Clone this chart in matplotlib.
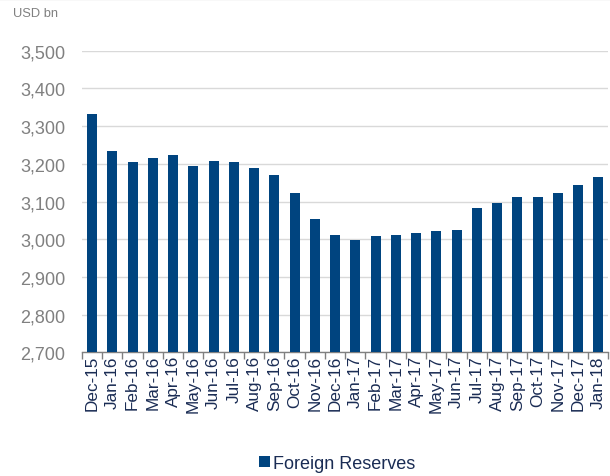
import matplotlib.pyplot as plt
import numpy as np

months = ['Dec-15', 'Jan-16', 'Feb-16', 'Mar-16', 'Apr-16', 'May-16', 'Jun-16',
          'Jul-16', 'Aug-16', 'Sep-16', 'Oct-16', 'Nov-16', 'Dec-16', 'Jan-17',
          'Feb-17', 'Mar-17', 'Apr-17', 'May-17', 'Jun-17', 'Jul-17', 'Aug-17',
          'Sep-17', 'Oct-17', 'Nov-17', 'Dec-17', 'Jan-18']
reserves = [3333, 3234, 3206, 3215, 3223, 3195, 3208, 3204, 3188, 3169, 3123,
            3054, 3011, 2999, 3008, 3012, 3016, 3021, 3024, 3084, 3095, 3111,
            3113, 3122, 3143, 3164]
yticks = [2700, 2800, 2900, 3000, 3100, 3200, 3300, 3400, 3500]

bar_color = '#00447f'
navy = '#1a2c54'
gray = '#808080'

fig = plt.figure(figsize=(6.1, 4.77), dpi=100)
ax = fig.add_axes([0.1344, 0.2593, 0.8631, 0.6323])

x = np.arange(len(months))
ax.bar(x, reserves, width=0.5, color=bar_color, label='Foreign Reserves', zorder=3)

ax.set_xlim(-0.5, len(months) - 0.5)
ax.set_ylim(2700, 3500)
ax.set_yticks(yticks)
ax.set_yticklabels(['{:,}'.format(v) for v in yticks], fontsize=13, color=gray,
                   family='Liberation Sans')
ax.grid(axis='y', color='#d9d9d9', linewidth=1, zorder=0)

ax.set_xticks(x)
ax.set_xticklabels(months, rotation=90, fontsize=12.3, color=navy, family='Liberation Sans')
ax.set_xticks(np.arange(-0.5, len(months)), minor=True)
ax.tick_params(axis='x', which='major', length=0, pad=2)
ax.tick_params(axis='x', which='minor', length=5, color=gray, width=1)
ax.tick_params(axis='y', length=0, pad=12)

for s in ['top', 'right', 'left']:
    ax.spines[s].set_visible(False)
ax.spines['bottom'].set_color(gray)
ax.spines['bottom'].set_linewidth(1)

# fine trait gris en haut de l'image
fig.add_artist(plt.Line2D([0, 1], [0.999, 0.999], color='#e0e0e0', linewidth=1))

fig.text(0.021, 0.97, 'USD bn', fontsize=9.3, color=gray, family='Liberation Sans',
         va='center')

fig.legend(loc='center', bbox_to_anchor=(0.553, 0.027), frameon=False,
           prop={'family': 'Liberation Sans', 'size': 13}, handlelength=0.6,
           handleheight=0.6, handletextpad=0.15, labelcolor=navy,
           borderpad=0, borderaxespad=0)

fig.savefig('out.png', dpi=100)
